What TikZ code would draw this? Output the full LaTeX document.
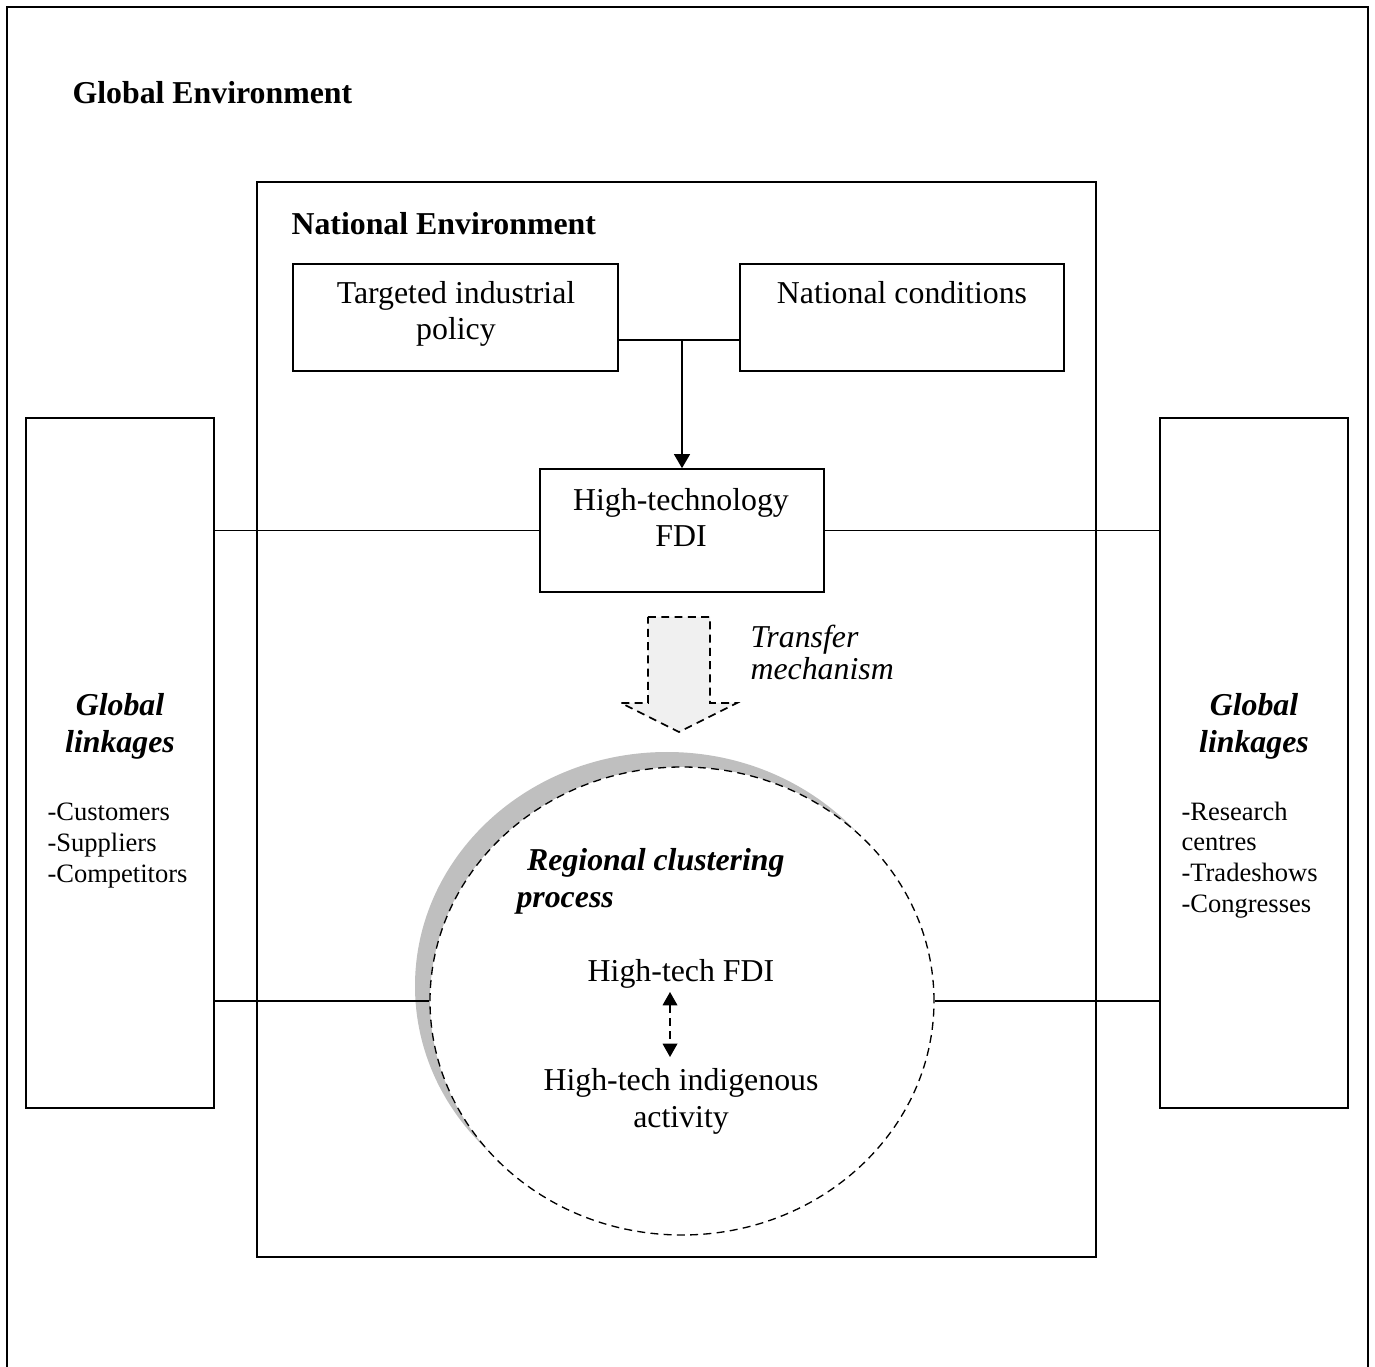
\documentclass[tikz,border=0pt]{standalone}
\usepackage{fontspec}
\setmainfont{Liberation Serif}
\usetikzlibrary{shapes.geometric,arrows.meta,fit}
\begin{document}
\begin{tikzpicture}[x=0.377pt,y=-0.377pt,
  box/.style={draw, line width=0.6pt, inner sep=0pt},
  t12/.style={font=\fontsize{12}{13.8}\selectfont, inner sep=0pt, align=center},
  t10/.style={font=\fontsize{10}{11.5}\selectfont, inner sep=0pt, align=left},
  conn/.style={line width=0.6pt},
  dsh/.style={dash pattern=on 3pt off 2pt}]
\useasboundingbox (0,0) rectangle (1375,1367);
% outer frame (global environment)
\draw[line width=0.8pt] (7,1367) -- (7,7) -- (1368,7) -- (1368,1367);
\node[t12, anchor=base west] (genv) at (72,104) {\bfseries Global Environment};
% national environment box
\node[box, fit={(257,182)(1096,1257)}] (nat) {};
\node[t12, anchor=base west] (natt) at (291,235) {\bfseries National Environment};
% side boxes
\node[box, fit={(26,418)(214,1108)}] (lb) {};
\node[box, fit={(1160,418)(1348,1108)}] (rb) {};
\node[t12, anchor=base] (lbt) at (120,752) {\bfseries\itshape Global\\\bfseries\itshape linkages};
\node[t12, anchor=base] (rbt) at (1254,752) {\bfseries\itshape Global\\\bfseries\itshape linkages};
\node[t10, anchor=base west] (lbl) at (47,882) {-Customers\\-Suppliers\\-Competitors};
\node[t10, anchor=base west] (rbl) at (1181,912) {-Research\\centres\\-Tradeshows\\-Congresses};
% top boxes
\node[box, fit={(293,264)(618,371)}] (targ) {};
\node[box, fit={(740,264)(1064,371)}] (ncond) {};
\node[box, fit={(540,469)(824,592)}] (fdi) {};
\node[t12, anchor=base] (targt) at (456,340) {Targeted industrial\\policy};
\node[t12, anchor=base] (ncondt) at (902,304) {National conditions};
\node[t12, anchor=base] (fdit) at (681,547) {High-technology\\FDI};
% connectors
\coordinate (j) at (682,340);
\draw[conn] (targ.east |- j) -- (ncond.west |- j);
\draw[conn, -{Triangle[length=5.3pt,width=6pt]}] (j) -- (fdi.north);
\draw[conn] (lb.east |- fdi.west) -- (fdi.west);
\draw[conn] (fdi.east) -- (rb.west |- fdi.east);
% transfer arrow
\draw[dsh, line width=0.6pt, fill=black!6] (648,617) -- (710,617) -- (710,703) -- (737,703) -- (679,732) -- (621,703) -- (648,703) -- cycle;
\node[t12, align=left, anchor=base west, font=\fontsize{12}{12.4}\selectfont\itshape] (trt) at (750,680) {Transfer\\mechanism};
% regional cluster
\node[ellipse, fill=black!25, minimum width=504*0.377pt, minimum height=468*0.377pt, inner sep=0pt] (shad) at (667,986) {};
\node[ellipse, draw, dsh, line width=0.5pt, fill=white, minimum width=504*0.377pt, minimum height=468*0.377pt, inner sep=0pt] (circ) at (682,1001) {};
\draw[conn] (lb.east |- circ.west) -- (circ.west);
\draw[conn] (circ.east) -- (rb.west |- circ.east);
\node[t12, align=left, anchor=base west] (regt) at (516,907) {\bfseries\itshape\hspace*{4pt}Regional clustering\\\bfseries\itshape process};
\node[t12, anchor=base] (hfdi) at (681,981) {High-tech FDI};
\node[t12, anchor=base] (hind) at (681,1127) {High-tech indigenous\\activity};
\coordinate (da1) at (670,992);
\coordinate (da2) at (670,1057);
\draw[conn, dsh, {Triangle[length=5pt,width=5.5pt]}-{Triangle[length=5pt,width=5.5pt]}] (da1) -- (da2);
\end{tikzpicture}
\end{document}
